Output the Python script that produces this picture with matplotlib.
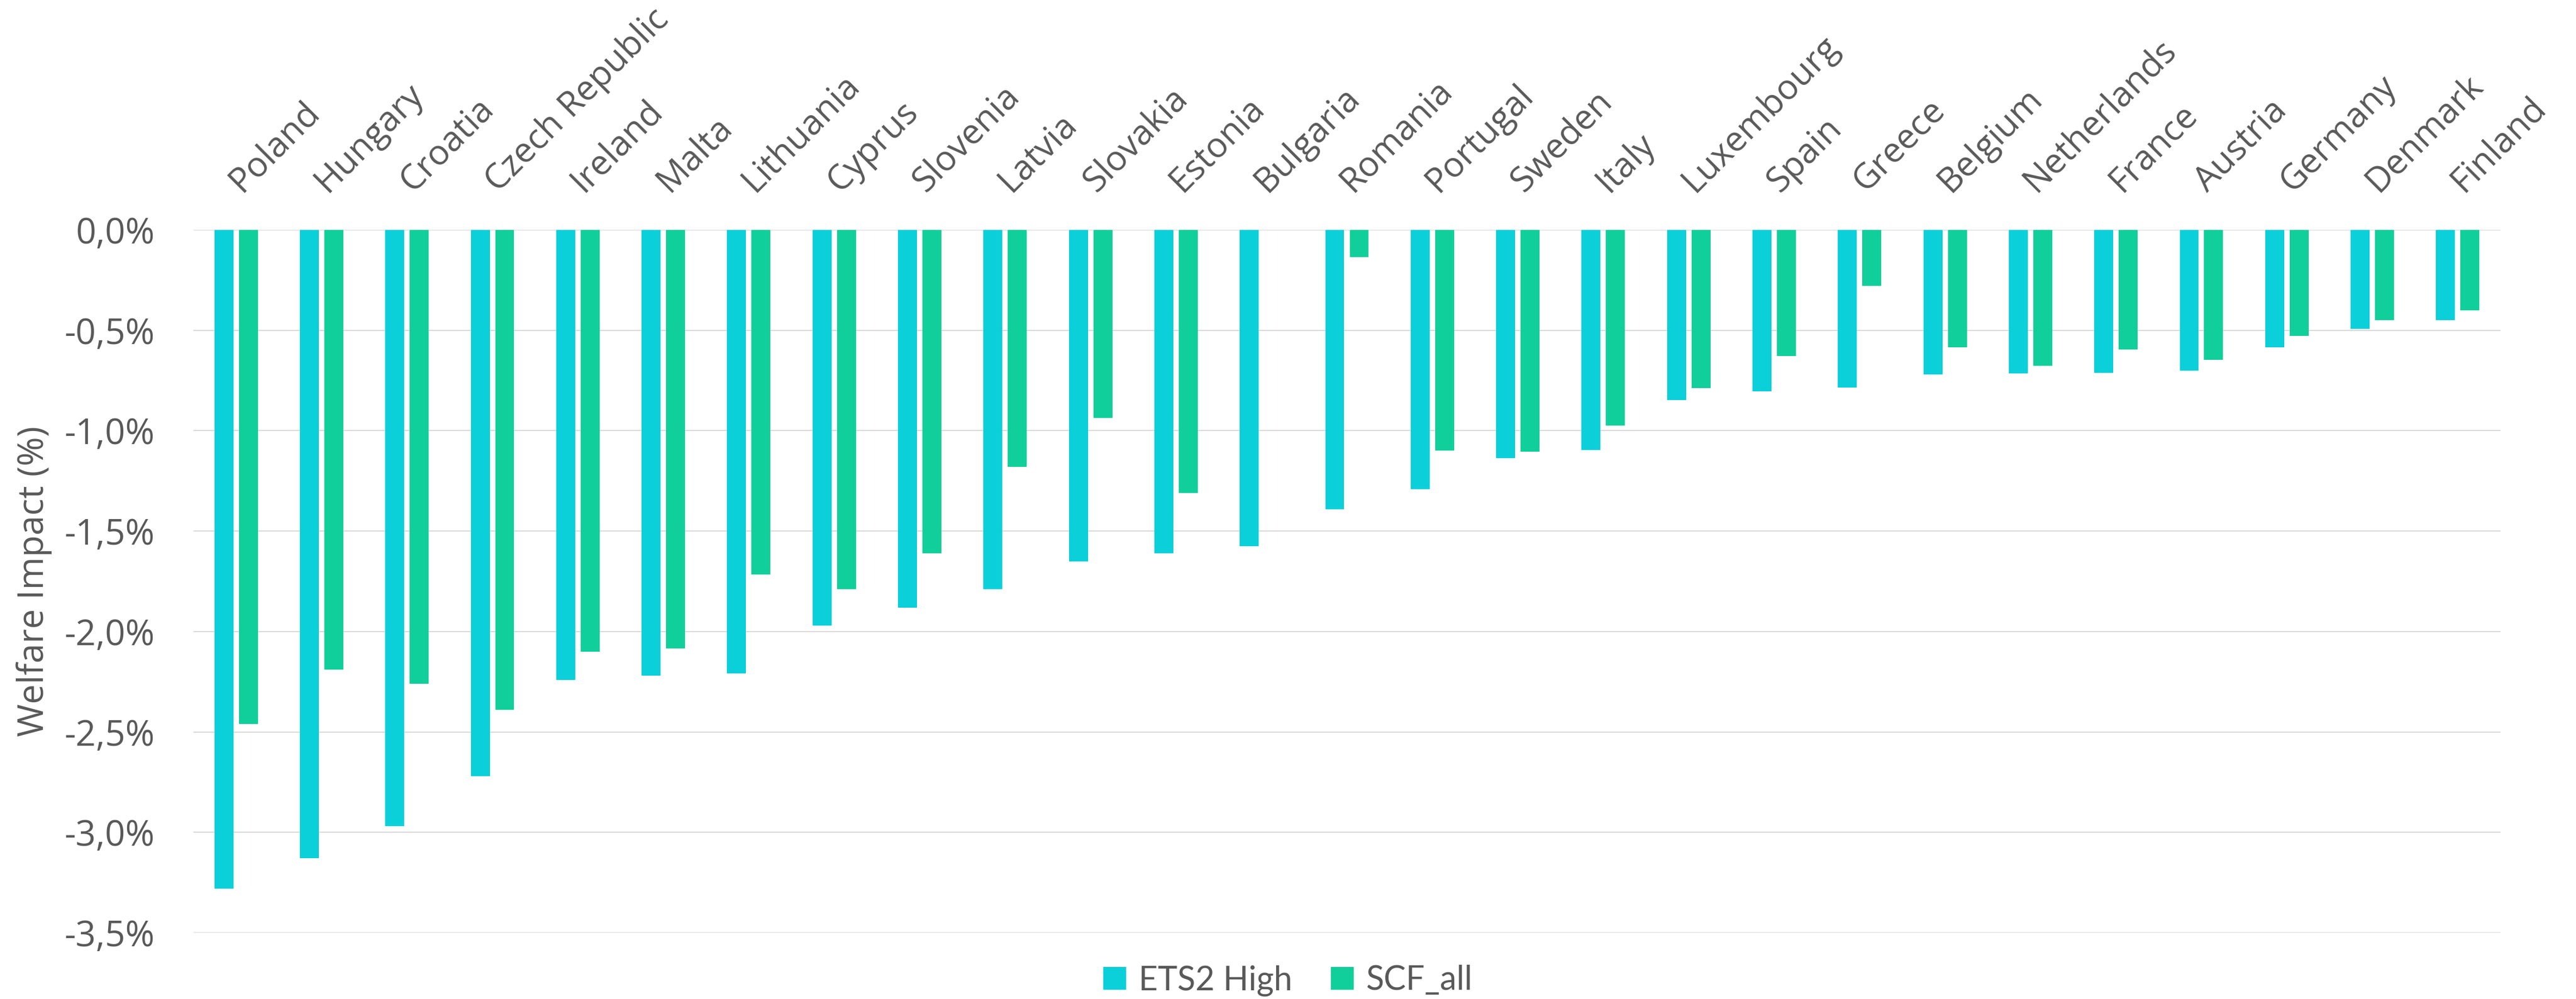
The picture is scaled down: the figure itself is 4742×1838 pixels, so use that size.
import matplotlib
matplotlib.use("Agg")
import matplotlib.pyplot as plt
import matplotlib.transforms as mtransforms
import numpy as np
from matplotlib.ticker import FuncFormatter, MultipleLocator

countries = ["Poland", "Hungary", "Croatia", "Czech Republic", "Ireland", "Malta",
             "Lithuania", "Cyprus", "Slovenia", "Latvia", "Slovakia", "Estonia",
             "Bulgaria", "Romania", "Portugal", "Sweden", "Italy", "Luxembourg",
             "Spain", "Greece", "Belgium", "Netherlands", "France", "Austria",
             "Germany", "Denmark", "Finland"]
ets2_high = [-3.28, -3.13, -2.97, -2.72, -2.24, -2.22, -2.21, -1.97, -1.88, -1.79,
             -1.65, -1.61, -1.576, -1.39, -1.29, -1.136, -1.095, -0.848, -0.804,
             -0.785, -0.72, -0.715, -0.712, -0.70, -0.585, -0.494, -0.449]
scf_all = [-2.46, -2.19, -2.26, -2.39, -2.10, -2.085, -1.715, -1.79, -1.61, -1.18,
           -0.937, -1.31, 0.0, -0.136, -1.10, -1.104, -0.975, -0.788, -0.627,
           -0.278, -0.585, -0.677, -0.595, -0.646, -0.528, -0.449, -0.40]
series_names = ["ETS2 High", "SCF_all"]
colors = ["#0BCFD9", "#11CF9A"]

TXT = "#595959"
FONT = "Open Sans"
plt.rcParams["font.family"] = [FONT, "DejaVu Sans"]

DPI = 100
fig = plt.figure(figsize=(47.42, 18.38), dpi=DPI)
ax = fig.add_axes([356 / 4742, 1 - 1716 / 1838, (4603 - 356) / 4742, (1716 - 423) / 1838])

x = np.arange(len(countries)) + 0.5
w = 0.222
off = 0.143
ax.bar(x - off, ets2_high, width=w, color=colors[0], label=series_names[0], zorder=3)
ax.bar(x + off, scf_all, width=w, color=colors[1], label=series_names[1], zorder=3)

ax.set_xlim(0, len(countries))
ax.set_ylim(-3.5, 0)
ax.yaxis.set_major_locator(MultipleLocator(0.5))
ax.yaxis.set_major_formatter(FuncFormatter(
    lambda v, p: ("%.1f%%" % v).replace(".", ",").replace("-0,0", "0,0")))
ax.grid(axis="y", color="#D9D9D9", linewidth=1.5, zorder=0)
ax.set_axisbelow(True)
for s in ax.spines.values():
    s.set_visible(False)

ax.tick_params(axis="y", length=0, pad=51, labelsize=47, labelcolor=TXT)
ax.set_xticks([])

# rotated category labels above the plot
base = mtransforms.blended_transform_factory(ax.transData, ax.transAxes)
shift = mtransforms.ScaledTranslation(10 / DPI, 68 / DPI, fig.dpi_scale_trans)
for xi, name in zip(x, countries):
    ax.text(xi, 1.0, name, transform=base + shift, rotation=45,
            rotation_mode="anchor", ha="left", va="baseline",
            fontsize=46, color=TXT, fontfamily=FONT, clip_on=False)

ax.set_ylabel("Welfare Impact (%)", fontsize=47, color=TXT, labelpad=16)

leg = fig.legend(loc="center", bbox_to_anchor=(0.5, 1 - 1804 / 1838), ncol=2,
                 frameon=False, prop={"family": "Lato", "size": 44},
                 handlelength=0.69, handleheight=0.69, handletextpad=0.38,
                 columnspacing=1.15, borderaxespad=0, borderpad=0)
for t in leg.get_texts():
    t.set_color(TXT)

fig.savefig("out.png", dpi=DPI)
